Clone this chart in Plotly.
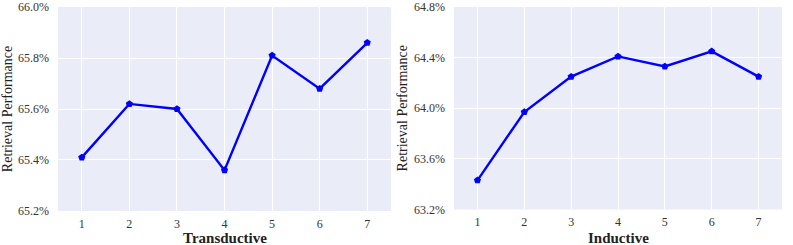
import plotly.graph_objects as go
from plotly.subplots import make_subplots

steps = [1, 2, 3, 4, 5, 6, 7]
transductive = [65.41, 65.62, 65.60, 65.36, 65.81, 65.68, 65.86]
inductive = [63.43, 63.97, 64.25, 64.41, 64.33, 64.45, 64.25]

trans_ticks = [65.2, 65.4, 65.6, 65.8, 66.0]
ind_ticks = [63.2, 63.6, 64.0, 64.4, 64.8]
x_titles = ["Transductive", "Inductive"]

fig = make_subplots(rows=1, cols=2)

line_kw = dict(mode="lines+markers", line=dict(color="#0000FF", width=2.4),
               marker=dict(symbol="pentagon", size=7.5, color="#0000FF",
                           line=dict(color="#0000FF", width=0)),
               showlegend=False)
fig.add_trace(go.Scatter(x=steps, y=transductive, **line_kw), row=1, col=1)
fig.add_trace(go.Scatter(x=steps, y=inductive, **line_kw), row=1, col=2)

font = "Liberation Serif"
bg = "#EAEDF7"

fig.update_layout(
    width=793, height=245,
    margin=dict(l=58, r=11, t=7, b=34, autoexpand=False),
    paper_bgcolor="white", plot_bgcolor=bg,
    font=dict(family=font, size=12, color="#333333"),
    xaxis=dict(domain=[0.0, 0.46]),
    xaxis2=dict(domain=[0.547, 1.0]),
    yaxis=dict(domain=[0.0, 1.0]),
    yaxis2=dict(domain=[0.0074, 1.0]),
)

for i, ticks in enumerate([trans_ticks, ind_ticks], start=1):
    fig.update_xaxes(
        range=[0.5, 7.5], tickvals=steps, ticktext=[str(s) for s in steps],
        showgrid=True, gridcolor="white", gridwidth=1, zeroline=False,
        showline=False, ticks="", ticklabelstandoff=4, automargin=False,
        ticklabeloverflow="allow",
        tickfont=dict(family=font, size=12, color="#333333"),
        row=1, col=i)
    fig.update_yaxes(
        range=[ticks[0] - 0.0005, ticks[-1] + 0.0005], tickvals=ticks,
        ticktext=[f"{t:.1f}%" for t in ticks],
        showgrid=True, gridcolor="white", gridwidth=1, zeroline=False,
        showline=False, ticks="", ticklabelstandoff=8, automargin=False,
        ticklabeloverflow="allow",
        tickfont=dict(family=font, size=12, color="#333333"),
        title=dict(text="Retrieval Performance", standoff=3,
                   font=dict(family=font, size=14, color="#222222")),
        row=1, col=i)

for i, t in enumerate(x_titles):
    fig.add_annotation(
        text="<b>" + t + "</b>", xref="x domain" if i == 0 else "x2 domain",
        x=0.5, yref="paper", y=-26.5 / 204, yanchor="middle", xanchor="center",
        showarrow=False, borderpad=0,
        font=dict(family=font, size=15, color="#222222"))

fig.write_html("out.html", config={"displayModeBar": False},
               post_script="document.body.style.margin='0';")
